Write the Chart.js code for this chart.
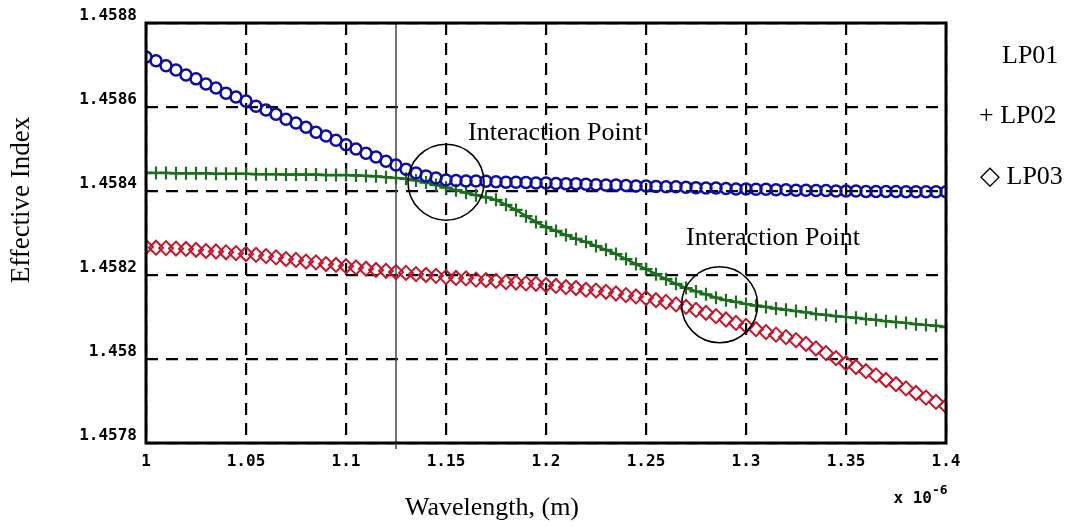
<!DOCTYPE html>
<html>
<head>
<meta charset="utf-8">
<script src="https://cdn.jsdelivr.net/npm/chart.js@4.4.1/dist/chart.umd.min.js"></script>
<style>
  html, body { margin: 0; padding: 0; background: #fff; }
  #wrap { width: 1071px; height: 527px; }
</style>
</head>
<body>
<div id="wrap"><canvas id="chart" width="1071" height="527"></canvas></div>
<script>
// wavelength in units of 1e-6 m
const wavelength = [
  1.000, 1.005, 1.010, 1.015, 1.020, 1.025, 1.030, 1.035, 1.040, 1.045,
  1.050, 1.055, 1.060, 1.065, 1.070, 1.075, 1.080, 1.085, 1.090, 1.095,
  1.100, 1.105, 1.110, 1.115, 1.120, 1.125, 1.130, 1.135, 1.140, 1.145,
  1.150, 1.155, 1.160, 1.165, 1.170, 1.175, 1.180, 1.185, 1.190, 1.195,
  1.200, 1.205, 1.210, 1.215, 1.220, 1.225, 1.230, 1.235, 1.240, 1.245,
  1.250, 1.255, 1.260, 1.265, 1.270, 1.275, 1.280, 1.285, 1.290, 1.295,
  1.300, 1.305, 1.310, 1.315, 1.320, 1.325, 1.330, 1.335, 1.340, 1.345,
  1.350, 1.355, 1.360, 1.365, 1.370, 1.375, 1.380, 1.385, 1.390, 1.395,
  1.400
];

const lp01 = [
  1.458719, 1.458710, 1.458698, 1.458688, 1.458676, 1.458667, 1.458655, 1.458645, 1.458633, 1.458624,
  1.458614, 1.458602, 1.458593, 1.458583, 1.458571, 1.458562, 1.458552, 1.458540, 1.458531, 1.458521,
  1.458510, 1.458500, 1.458490, 1.458481, 1.458471, 1.458462, 1.458452, 1.458443, 1.458436, 1.458431,
  1.458426, 1.458425, 1.458424, 1.458424, 1.458423, 1.458422, 1.458421, 1.458421, 1.458420, 1.458419,
  1.458419, 1.458418, 1.458417, 1.458417, 1.458416, 1.458415, 1.458414, 1.458414, 1.458413, 1.458412,
  1.458412, 1.458411, 1.458410, 1.458410, 1.458409, 1.458408, 1.458407, 1.458407, 1.458406, 1.458405,
  1.458405, 1.458404, 1.458404, 1.458403, 1.458403, 1.458402, 1.458402, 1.458401, 1.458401, 1.458400,
  1.458400, 1.458400, 1.458399, 1.458399, 1.458399, 1.458399, 1.458398, 1.458398, 1.458398, 1.458398,
  1.458398
];

const lp02 = [
  1.458443, 1.458443, 1.458443, 1.458442, 1.458442, 1.458442, 1.458442, 1.458441, 1.458441, 1.458441,
  1.458441, 1.458440, 1.458440, 1.458440, 1.458439, 1.458439, 1.458439, 1.458439, 1.458438, 1.458438,
  1.458438, 1.458437, 1.458436, 1.458435, 1.458433, 1.458431, 1.458429, 1.458425, 1.458420, 1.458414,
  1.458408, 1.458402, 1.458396, 1.458390, 1.458385, 1.458379, 1.458367, 1.458355, 1.458340, 1.458326,
  1.458314, 1.458305, 1.458295, 1.458286, 1.458279, 1.458269, 1.458260, 1.458250, 1.458238, 1.458226,
  1.458214, 1.458202, 1.458190, 1.458179, 1.458169, 1.458161, 1.458154, 1.458146, 1.458140, 1.458136,
  1.458131, 1.458127, 1.458124, 1.458120, 1.458117, 1.458114, 1.458111, 1.458107, 1.458105, 1.458102,
  1.458100, 1.458098, 1.458095, 1.458093, 1.458090, 1.458088, 1.458086, 1.458083, 1.458081, 1.458079,
  1.458076
];

const lp03 = [
  1.458267, 1.458265, 1.458264, 1.458263, 1.458262, 1.458260, 1.458257, 1.458256, 1.458254, 1.458252,
  1.458250, 1.458248, 1.458245, 1.458242, 1.458238, 1.458236, 1.458232, 1.458230, 1.458226, 1.458224,
  1.458221, 1.458218, 1.458215, 1.458212, 1.458210, 1.458207, 1.458205, 1.458202, 1.458200, 1.458198,
  1.458195, 1.458193, 1.458192, 1.458189, 1.458188, 1.458186, 1.458183, 1.458182, 1.458180, 1.458179,
  1.458176, 1.458174, 1.458171, 1.458169, 1.458165, 1.458163, 1.458160, 1.458156, 1.458152, 1.458149,
  1.458145, 1.458140, 1.458136, 1.458130, 1.458124, 1.458117, 1.458110, 1.458102, 1.458094, 1.458086,
  1.458079, 1.458071, 1.458064, 1.458058, 1.458052, 1.458045, 1.458036, 1.458025, 1.458014, 1.458002,
  1.457990, 1.457981, 1.457971, 1.457961, 1.457950, 1.457940, 1.457930, 1.457919, 1.457908, 1.457898,
  1.457888
];

const xTicks = [1, 1.05, 1.1, 1.15, 1.2, 1.25, 1.3, 1.35, 1.4];
const yTicks = [1.4578, 1.458, 1.4582, 1.4584, 1.4586, 1.4588];

// circled crossings and the vertical cursor line
const crossX = [1.15, 1.2868];
const crossY = [1.458421, 1.458129];
const cursorX = 1.125;
const noteText = ['Interaction Point', 'Interaction Point'];
const noteX = [1.161, 1.27];
const noteY = [1.458538, 1.458288];

const legendText = ['LP01', '+ LP02', '\u25C7 LP03'];

const toPts = ys => wavelength.map((w, i) => ({ x: w, y: ys[i] }));

const decor = {
  id: 'decor',
  afterDatasetsDraw(chart) {
    const { ctx, chartArea: a, scales: { x, y } } = chart;
    ctx.save();
    ctx.strokeStyle = '#000';
    ctx.lineWidth = 3;
    ctx.strokeRect(a.left, a.top, a.right - a.left, a.bottom - a.top);

    // circles round the crossings
    ctx.lineWidth = 1.6;
    crossX.forEach((cx, i) => {
      ctx.beginPath();
      ctx.arc(x.getPixelForValue(cx), y.getPixelForValue(crossY[i]), 38, 0, Math.PI * 2);
      ctx.stroke();
    });

    // cursor tick poking below the axis
    ctx.strokeStyle = '#444';
    ctx.lineWidth = 1.5;
    ctx.beginPath();
    ctx.moveTo(x.getPixelForValue(cursorX), a.bottom);
    ctx.lineTo(x.getPixelForValue(cursorX), a.bottom + 6);
    ctx.stroke();

    ctx.fillStyle = '#000';
    ctx.font = '26px "Liberation Serif", "Times New Roman", serif';
    ctx.textBaseline = 'middle';
    ctx.textAlign = 'left';
    noteText.forEach((t, i) => {
      ctx.fillText(t, x.getPixelForValue(noteX[i]), y.getPixelForValue(noteY[i]));
    });

    // legend, plain text on the right
    ctx.fillText(legendText[0], a.right + 56, a.top + 33);
    ctx.fillText(legendText[1], a.right + 33, a.top + 93);
    ctx.fillText(legendText[2], a.right + 34, a.top + 154);

    // axis titles
    ctx.textAlign = 'center';
    ctx.fillText('Wavelength, (m)', a.left + 346, a.bottom + 65);
    ctx.save();
    ctx.translate(22, 200);
    ctx.rotate(-Math.PI / 2);
    ctx.font = '27px "Liberation Serif", "Times New Roman", serif';
    ctx.fillText('Effective Index', 0, 0);
    ctx.restore();

    // exponent label
    ctx.font = 'bold 16px "DejaVu Sans Mono", monospace';
    ctx.textAlign = 'right';
    ctx.fillText('x 10', a.right - 14, a.bottom + 56);
    ctx.font = 'bold 13px "DejaVu Sans Mono", monospace';
    ctx.textAlign = 'left';
    ctx.fillText('-6', a.right - 14, a.bottom + 48);
    ctx.restore();
  }
};

const tickFont = { family: '"DejaVu Sans Mono", monospace', size: 16, weight: 'bold' };

new Chart(document.getElementById('chart').getContext('2d'), {
  type: 'scatter',
  data: {
    datasets: [
      {
        label: 'LP01',
        data: toPts(lp01),
        showLine: false,
        pointStyle: 'circle',
        pointRadius: 5.5,
        pointBorderWidth: 2.5,
        pointBorderColor: '#0c0ca8',
        pointBackgroundColor: 'rgba(255,255,255,0)',
        order: 1
      },
      {
        label: 'LP03',
        data: toPts(lp03),
        showLine: false,
        pointStyle: 'rectRot',
        pointRadius: 7,
        pointBorderWidth: 2,
        pointBorderColor: '#c8142a',
        pointBackgroundColor: 'rgba(255,255,255,0)',
        order: 2
      },
      {
        label: 'LP02',
        data: toPts(lp02),
        showLine: true,
        borderColor: '#1a6e1e',
        borderWidth: 2.5,
        pointStyle: 'cross',
        pointRadius: 6.5,
        pointBorderWidth: 2.2,
        pointBorderColor: '#1a6e1e',
        order: 3
      },
      {
        label: 'cursor',
        data: [{ x: cursorX, y: yTicks[0] }, { x: cursorX, y: yTicks[yTicks.length - 1] }],
        showLine: true,
        borderColor: '#444',
        borderWidth: 1.5,
        pointRadius: 0,
        order: 4
      }
    ]
  },
  options: {
    responsive: false,
    animation: false,
    devicePixelRatio: 1,
    layout: { padding: { top: 23, right: 125, left: 0, bottom: 0 } },
    plugins: {
      legend: { display: false },
      tooltip: { enabled: false }
    },
    scales: {
      x: {
        type: 'linear',
        min: 1,
        max: 1.4,
        afterBuildTicks: s => { s.ticks = xTicks.map(v => ({ value: v })); },
        afterFit: s => { s.height = 84; s.paddingLeft = 0; s.paddingRight = 0; },
        grid: { color: '#000', lineWidth: 2.2, drawTicks: false },
        border: { display: false, dash: [12, 8] },
        ticks: { font: tickFont, color: '#000', padding: 9, maxRotation: 0, callback: v => String(v) }
      },
      y: {
        type: 'linear',
        min: 1.4578,
        max: 1.4588,
        afterBuildTicks: s => { s.ticks = yTicks.map(v => ({ value: v })); },
        afterFit: s => { s.width = 146; s.paddingTop = 0; s.paddingBottom = 0; },
        grid: { color: '#000', lineWidth: 2.2, drawTicks: false },
        border: { display: false, dash: [12, 8] },
        ticks: { font: tickFont, color: '#000', padding: 9, labelOffset: -7, callback: v => String(v) }
      }
    }
  },
  plugins: [decor]
});
</script>
</body>
</html>
